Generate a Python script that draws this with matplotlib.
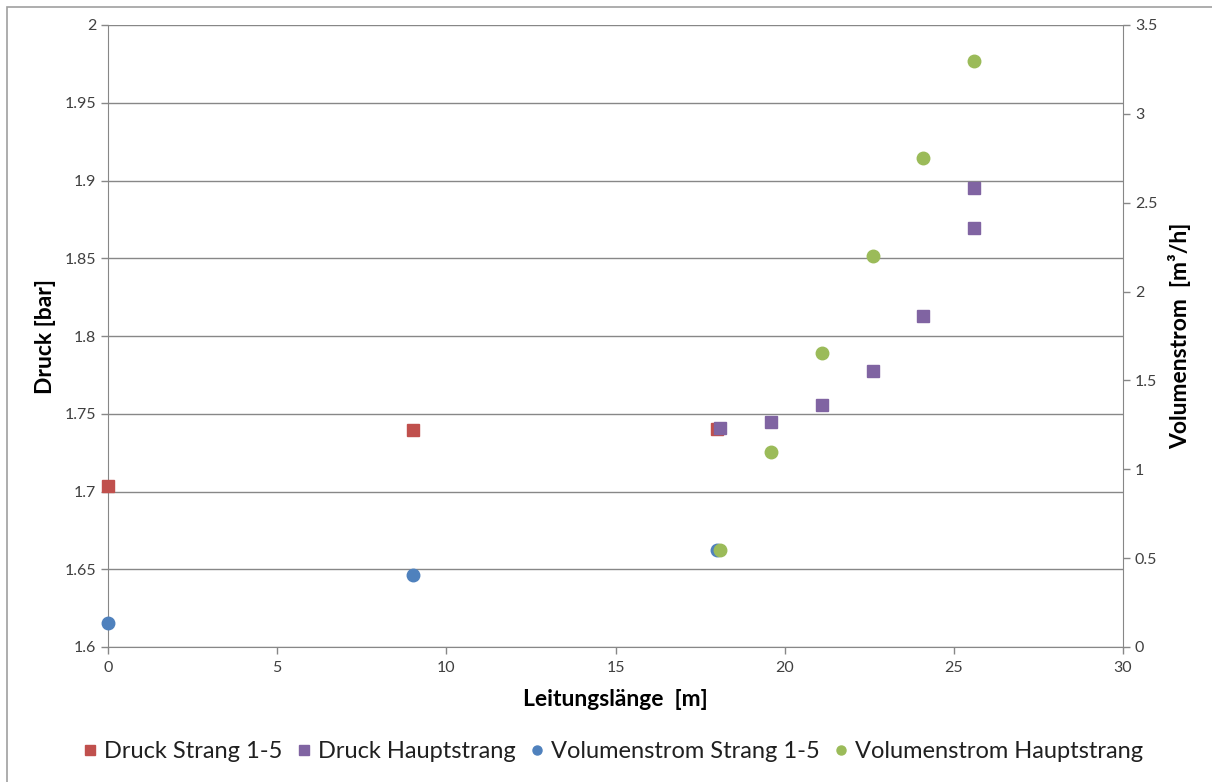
import matplotlib
matplotlib.use("Agg")
import matplotlib.pyplot as plt
from matplotlib.patches import Rectangle
from matplotlib.lines import Line2D

plt.rcParams['font.family'] = ['Lato', 'DejaVu Sans']

# Data
druck_strang_x = [0.0, 9.0, 18.0]
druck_strang_y = [1.7035, 1.7395, 1.740]
druck_haupt_x = [18.1, 19.6, 21.1, 22.6, 24.1, 25.6, 25.6]
druck_haupt_y = [1.741, 1.745, 1.7555, 1.7775, 1.813, 1.895, 1.8695]
vol_strang_x = [0.0, 9.0, 18.0]
vol_strang_y = [0.135, 0.405, 0.545]
vol_haupt_x = [18.1, 19.6, 21.1, 22.6, 24.1, 25.6]
vol_haupt_y = [0.545, 1.097, 1.654, 2.20, 2.75, 3.30]

x_ticks = [0, 5, 10, 15, 20, 25, 30]
left_ticks = [1.6, 1.65, 1.7, 1.75, 1.8, 1.85, 1.9, 1.95, 2.0]
left_labels = ['1.6', '1.65', '1.7', '1.75', '1.8', '1.85', '1.9', '1.95', '2']
right_ticks = [0, 0.5, 1, 1.5, 2, 2.5, 3, 3.5]
right_labels = ['0', '0.5', '1', '1.5', '2', '2.5', '3', '3.5']

RED = '#C0504D'
PURPLE = '#8064A2'
BLUE = '#4F81BD'
GREEN = '#9BBB59'
GRID = '#878787'
TXT = '#404040'

fig = plt.figure(figsize=(12.12, 7.82), dpi=100)
fig.patches.append(Rectangle((7/1212, -0.1), 1.2, 1 - 7/782 + 0.1, transform=fig.transFigure,
                             fill=False, edgecolor='#A0A0A0', linewidth=1.2))

ax = fig.add_axes([108/1212, 1 - 647/782, (1123 - 108)/1212, (647 - 25)/782])
ax2 = ax.twinx()

ax.set_xlim(0, 30)
ax.set_ylim(1.6, 2.0)
ax2.set_ylim(0, 3.5)

ax.set_xticks(x_ticks)
ax.set_xticklabels([str(t) for t in x_ticks])
ax.set_yticks(left_ticks)
ax.set_yticklabels(left_labels)
ax2.set_yticks(right_ticks)
ax2.set_yticklabels(right_labels)

ax.yaxis.grid(True, color=GRID, linewidth=1.0)
ax.set_axisbelow(True)

for a in (ax, ax2):
    for s in a.spines.values():
        s.set_visible(False)
ax.spines['left'].set_visible(True)
ax.spines['left'].set_color(GRID)
ax.spines['bottom'].set_visible(True)
ax.spines['bottom'].set_color(GRID)
ax2.spines['right'].set_visible(True)
ax2.spines['right'].set_color(GRID)

ax.tick_params(axis='both', colors=GRID, labelcolor=TXT, labelsize=11.5, length=5, width=1)
ax.tick_params(axis='x', pad=5)
ax2.tick_params(axis='y', colors=GRID, labelcolor=TXT, labelsize=11.5, length=5, width=1)

ax.set_xlabel('Leitungslänge  [m]', fontsize=16.5, fontweight='bold', color='black', labelpad=10)
ax.set_ylabel('Druck [bar]', fontsize=16.5, fontweight='bold', color='black', labelpad=6)
ax2.set_ylabel('Volumenstrom  [m³/h]', fontsize=16.5, fontweight='bold', color='black', labelpad=8)

ax.plot(druck_strang_x, druck_strang_y, 's', color=RED, ms=9, linestyle='none', zorder=3)
ax.plot(druck_haupt_x, druck_haupt_y, 's', color=PURPLE, ms=9, linestyle='none', zorder=3)
ax2.plot(vol_strang_x, vol_strang_y, 'o', color=BLUE, ms=9, linestyle='none', zorder=3)
ax2.plot(vol_haupt_x, vol_haupt_y, 'o', color=GREEN, ms=9, linestyle='none', zorder=3)

for a in (ax, ax2):
    for line in a.get_lines():
        line.set_clip_on(False)

handles = [Line2D([], [], marker='s', color=RED, ms=7.5, linestyle='none'),
           Line2D([], [], marker='s', color=PURPLE, ms=7.5, linestyle='none'),
           Line2D([], [], marker='o', color=BLUE, ms=6.5, linestyle='none'),
           Line2D([], [], marker='o', color=GREEN, ms=6.5, linestyle='none')]
labels = ['Druck Strang 1-5', 'Druck Hauptstrang', 'Volumenstrom Strang 1-5', 'Volumenstrom Hauptstrang']
fig.legend(handles, labels, loc='center', bbox_to_anchor=(613/1212, 1 - 752/782), ncol=4,
           frameon=False, fontsize=17, handlelength=0.6, handletextpad=0.3, columnspacing=0.6,
           labelcolor='#202020')

fig.savefig('out.png', dpi=100)
